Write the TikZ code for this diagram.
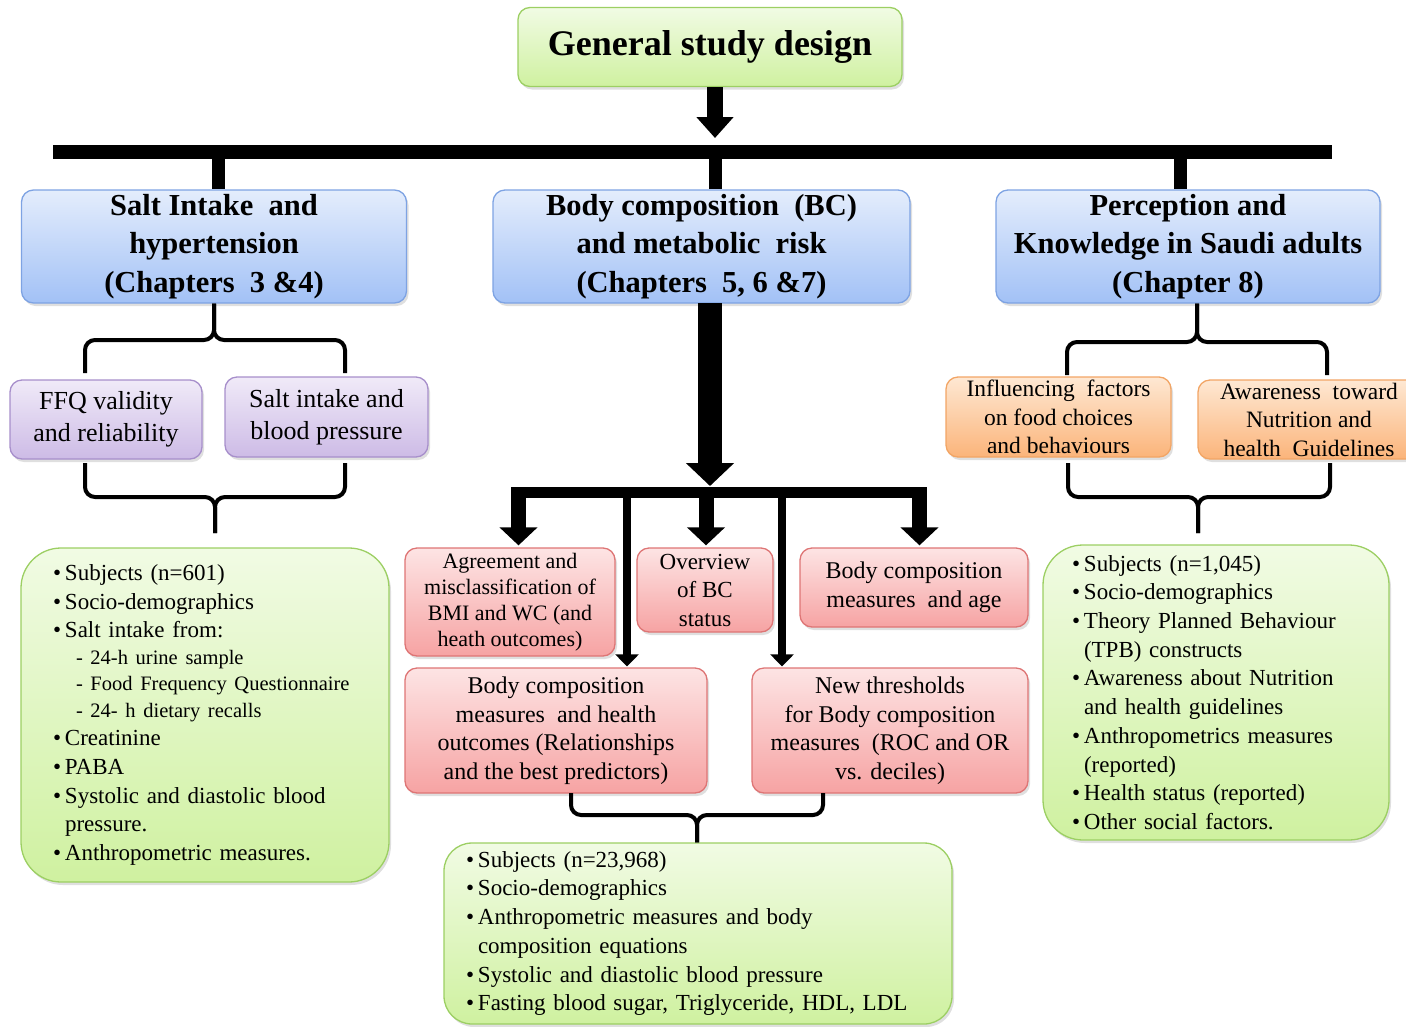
\documentclass[tikz,border=0pt]{standalone}
\usepackage{fontspec}
\setmainfont{Liberation Serif}
\usetikzlibrary{arrows.meta,shadows,positioning}

\definecolor{GreenTop}{HTML}{F1FBE4}
\definecolor{GreenBottom}{HTML}{CFF1A0}
\definecolor{GreenEdge}{HTML}{9CCF63}
\definecolor{BlueTop}{HTML}{E4EDFC}
\definecolor{BlueBottom}{HTML}{A2C1F6}
\definecolor{BlueEdge}{HTML}{7EA3E3}
\definecolor{PurpleTop}{HTML}{F0EAF8}
\definecolor{PurpleBottom}{HTML}{CDBBE6}
\definecolor{PurpleEdge}{HTML}{A78FCB}
\definecolor{RedTop}{HTML}{FDE4E4}
\definecolor{RedBottom}{HTML}{F6A3A3}
\definecolor{RedEdge}{HTML}{DE7575}
\definecolor{OrangeTop}{HTML}{FEE8D3}
\definecolor{OrangeBottom}{HTML}{FBB47A}
\definecolor{OrangeEdge}{HTML}{F2A565}

\newcommand{\Bul}{\makebox[12pt][l]{\textbullet}}
\newcommand{\Cont}{\hspace*{12pt}}
\newcommand{\SubItem}[1]{{\fontsize{20.5}{26}\selectfont\hspace*{23pt}- #1}}

\begin{document}
\begin{tikzpicture}[x=1pt,y=-1pt,
	BoxBase/.style={draw, rounded corners=12, line width=1.3, inner sep=0pt, align=center,
		drop shadow={opacity=0.25, shadow xshift=2pt, shadow yshift=-3pt}},
	GreenBox/.style={BoxBase, draw=GreenEdge, top color=GreenTop, bottom color=GreenBottom},
	BlueBox/.style={BoxBase, draw=BlueEdge, top color=BlueTop, bottom color=BlueBottom,
		font=\fontsize{30.5}{38.5}\selectfont\bfseries},
	PurpleBox/.style={BoxBase, draw=PurpleEdge, top color=PurpleTop, bottom color=PurpleBottom,
		font=\fontsize{26}{32}\selectfont},
	OrangeBox/.style={BoxBase, draw=OrangeEdge, top color=OrangeTop, bottom color=OrangeBottom,
		font=\fontsize{23.5}{28.5}\selectfont},
	RedBox/.style={BoxBase, draw=RedEdge, top color=RedTop, bottom color=RedBottom,
		font=\fontsize{24}{28.5}\selectfont},
	ListBox/.style={GreenBox, rounded corners=40, align=left, inner ysep=0pt,
		font=\fontsize{23}{28.7}\selectfont},
	BraceLine/.style={line width=4, rounded corners=10},
	TitleArrow/.style={line width=16, -{Triangle[width=36pt 0,length=21pt 0]}},
	BigArrow/.style={line width=24, -{Triangle[width=47pt 0,length=23pt 0]}},
	MidArrow/.style={line width=15, -{Triangle[width=37pt 0,length=18pt 0]}, shorten >=2pt},
	ThinArrow/.style={line width=8, -{Triangle[width=23pt 0,length=12pt 0]}, shorten >=1pt},
	]
	\useasboundingbox (0,0) rectangle (1406,1026);

	% top level
	\node[GreenBox, minimum width=384, minimum height=79,
		font=\fontsize{36}{40}\selectfont\bfseries] (GeneralBox) at (710,47) {General study design};

	\node[BlueBox, minimum width=385, minimum height=113] (SaltBox) at (214,246.5)
		{Salt Intake\ \ and\\hypertension\\(Chapters\ \ 3 \&4)};
	\node[BlueBox, minimum width=417, minimum height=113] (BodyBox) at (701.5,246.5)
		{Body composition\ \ (BC)\\and metabolic\ \ risk\\(Chapters\ \ 5, 6 \&7)};
	\node[BlueBox, minimum width=384, minimum height=113] (PerceptionBox) at (1188,246.5)
		{Perception and\\Knowledge in Saudi adults\\(Chapter 8)};

	% salt branch
	\node[PurpleBox, minimum width=192, minimum height=79] (FfqBox) at (106,419.5)
		{FFQ validity\\and reliability};
	\node[PurpleBox, minimum width=203, minimum height=80] (SaltBpBox) at (326.5,417)
		{Salt intake and\\blood pressure};
	\node[ListBox, minimum width=368, minimum height=334, inner xsep=32, text width=304]
		(SaltListBox) at (205,715)
		{\Bul Subjects (n=601)\\
		 \Bul Socio-demographics\\
		 \Bul Salt intake from:\\[-2.5pt]
		 \SubItem{24-h urine sample}\\[-2.5pt]
		 \SubItem{Food Frequency Questionnaire}\\[-2pt]
		 \SubItem{24- h dietary recalls}\\
		 \Bul Creatinine\\
		 \Bul PABA\\
		 \Bul Systolic and diastolic blood\\
		 \Cont pressure.\\
		 \Bul Anthropometric measures.};

	% perception branch
	\node[OrangeBox, minimum width=225, minimum height=80] (FoodBox) at (1058.5,417)
		{Influencing\ \ factors\\on food choices\\and behaviours};
	\node[OrangeBox, minimum width=222, minimum height=79] (AwareBox) at (1309,419.5)
		{Awareness\ \ toward\\Nutrition and\\health\ \ Guidelines};
	\node[ListBox, minimum width=346, minimum height=295, inner xsep=29, text width=288]
		(SurveyListBox) at (1216,692.5)
		{\Bul Subjects (n=1,045)\\
		 \Bul Socio-demographics\\
		 \Bul Theory Planned Behaviour\\
		 \Cont (TPB) constructs\\
		 \Bul Awareness about Nutrition\\
		 \Cont and health guidelines\\
		 \Bul Anthropometrics measures\\
		 \Cont (reported)\\
		 \Bul Health status (reported)\\
		 \Bul Other social factors.};

	% body composition branch
	\node[RedBox, minimum width=210, minimum height=108, font=\fontsize{22}{26}\selectfont]
		(AgreeBox) at (510,602)
		{Agreement and\\misclassification of\\BMI and WC (and\\heath outcomes)};
	\node[RedBox, minimum width=136, minimum height=84, font=\fontsize{23}{28.5}\selectfont]
		(OverviewBox) at (705,590) {Overview\\of BC\\status};
	\node[RedBox, minimum width=228, minimum height=79] (AgeBox) at (914,587.5)
		{Body composition\\measures\ \ and age};
	\node[RedBox, minimum width=302, minimum height=125] (HealthBox) at (556,730.5)
		{Body composition\\measures\ \ and health\\outcomes (Relationships\\and the best predictors)};
	\node[RedBox, minimum width=276, minimum height=125] (ThresholdBox) at (890,730.5)
		{New thresholds\\for Body composition\\measures\ \ (ROC and OR\\vs. deciles)};
	\node[ListBox, rounded corners=28, minimum width=508, minimum height=181, inner xsep=22, text width=464]
		(BodyListBox) at (698,933.5)
		{\Bul Subjects (n=23,968)\\
		 \Bul Socio-demographics\\
		 \Bul Anthropometric measures and body\\
		 \Cont composition equations\\
		 \Bul Systolic and diastolic blood pressure\\
		 \Bul Fasting blood sugar, Triglyceride, HDL, LDL};

	% title arrow and top bar
	\coordinate (TitleDrop) at (715,87);
	\coordinate (TopBarL) at (53,152);
	\coordinate (TopBarR) at (1332,152);
	\draw[TitleArrow] (TitleDrop) -- (TitleDrop |- 0,138);
	\draw[line width=14] (TopBarL) -- (TopBarR);
	\foreach \x/\b in {218/SaltBox, 715/BodyBox, 1180/PerceptionBox}
		\draw[line width=13] (\x,159) -- (\x,0 |- \b.north);

	% salt braces
	\coordinate (SaltFork) at (214,340);
	\coordinate (SaltJoin) at (215,497);
	\draw[BraceLine] (SaltBox.south -| SaltFork) -- (SaltFork) -| (85,373);
	\draw[BraceLine] (SaltBox.south -| SaltFork) -- (SaltFork) -| (345,373);
	\draw[BraceLine] (85,463) |- (SaltJoin) -- (SaltJoin |- 0,533);
	\draw[BraceLine] (345,463) |- (SaltJoin) -- (SaltJoin |- 0,533);

	% perception braces
	\coordinate (PercFork) at (1197,342);
	\coordinate (PercJoin) at (1198,497);
	\draw[BraceLine] (PerceptionBox.south -| PercFork) -- (PercFork) -| (1067,375);
	\draw[BraceLine] (PerceptionBox.south -| PercFork) -- (PercFork) -| (1327,375);
	\draw[BraceLine] (1068,463) |- (PercJoin) -- (PercJoin |- 0,533);
	\draw[BraceLine] (1330,463) |- (PercJoin) -- (PercJoin |- 0,533);

	% body composition arrows
	\coordinate (BodyDrop) at (710,303);
	\draw[BigArrow] (BodyDrop) -- (BodyDrop |- 0,486);
	\draw[line width=11] (511,492.5) -- (927,492.5);
	\foreach \x/\b in {518.5/AgreeBox, 706/OverviewBox, 919.5/AgeBox}
		\draw[MidArrow] (\x,487) -- (\x,0 |- \b.north);
	\foreach \x/\b in {627/HealthBox, 782/ThresholdBox}
		\draw[ThinArrow] (\x,497) -- (\x,0 |- \b.north);

	% body composition brace
	\coordinate (BodyJoin) at (697,815);
	\draw[BraceLine] (571,793) |- (BodyJoin) -- (BodyJoin |- BodyListBox.north);
	\draw[BraceLine] (823,793) |- (BodyJoin) -- (BodyJoin |- BodyListBox.north);
\end{tikzpicture}
\end{document}
